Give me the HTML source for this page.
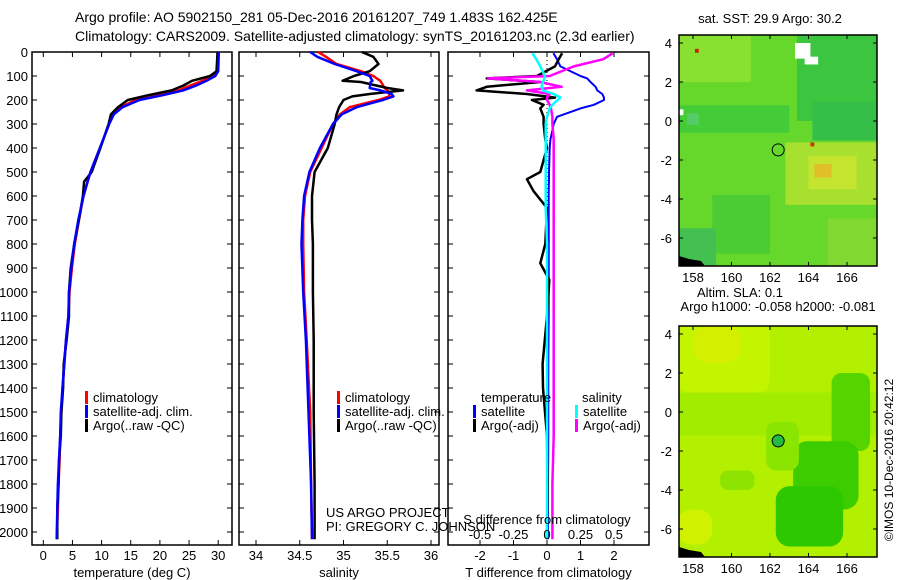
<!DOCTYPE html>
<html><head><meta charset="utf-8">
<style>
html,body{margin:0;padding:0;background:#fff;}
svg{display:block;font-family:"Liberation Sans",sans-serif;}
text{fill:#000;}
</style></head>
<body>
<svg id="fig" width="900" height="580" viewBox="0 0 900 580" xmlns="http://www.w3.org/2000/svg">
<text x="75" y="22" font-size="14">Argo profile: AO 5902150_281 05-Dec-2016 20161207_749 1.483S 162.425E</text>
<text x="75" y="41" font-size="14">Climatology: CARS2009. Satellite-adjusted climatology: synTS_20161203.nc (2.3d earlier)</text>
<g id="p1"></g>
<g id="p2"></g>
<g id="p3"></g>
<g id="m1"></g>
<g id="m2"></g>
<text transform="translate(893,460) rotate(-90)" text-anchor="middle" font-size="12">©IMOS 10-Dec-2016 20:42:12</text>
</svg>
<script>
// ---- data ----
const tempDepth = [0,80,100,120,140,160,180,200,230,260,300,400,500,540,600,700,800,900,1000,1100,1200,1300,1400,1500,1600,1700,1800,1900,2030];
const tempClim  = [29.9,29.8,29.0,27.3,25.2,23.2,19.5,15.8,13.3,12.0,11.3,9.7,8.1,7.6,6.9,6.1,5.4,4.9,4.5,4.3,3.9,3.6,3.3,3.1,2.9,2.8,2.6,2.5,2.3];
const tempSat   = [30.1,30.0,29.5,28.0,26.2,24.0,20.5,16.5,13.6,12.1,11.3,9.7,8.1,7.6,6.9,6.0,5.3,4.8,4.4,4.3,3.9,3.6,3.3,3.0,2.9,2.7,2.5,2.4,2.3];
const tempArgo  = [29.9,29.7,28.6,25.5,24.0,22.0,18.0,14.5,12.8,11.6,11.2,9.8,8.3,7.0,6.8,6.1,5.3,4.7,4.4,4.4,4.0,3.5,3.4,3.1,3.0,2.7,2.6,2.4,2.4];
const salDepth = [0,20,50,80,100,120,125,150,160,175,185,200,230,260,300,400,500,600,700,800,1000,1200,1500,1800,2030];
const salClim  = [34.71,34.80,34.92,35.20,35.34,35.42,35.43,35.47,35.50,35.53,35.52,35.40,35.07,34.96,34.88,34.75,34.62,34.56,34.54,34.54,34.55,34.58,34.62,34.63,34.64];
const salSat   = [34.62,34.70,34.90,35.15,35.30,35.33,35.31,35.30,35.42,35.55,35.57,35.45,35.15,34.98,34.88,34.73,34.61,34.55,34.53,34.52,34.54,34.57,34.60,34.63,34.64];
const salArgo  = [35.21,35.34,35.40,35.30,35.12,34.99,35.20,35.50,35.68,35.30,35.10,35.00,34.95,34.92,34.90,34.82,34.67,34.64,34.64,34.65,34.65,34.66,34.66,34.67,34.67];
const diffDepth = [5,30,60,100,110,125,145,160,175,190,200,220,235,270,300,365,400,500,530,580,650,800,880,950,1100,1300,1400,1600,1800,2030];
const dTsat  = [0.19,0.3,0.4,1.0,1.2,1.3,1.45,1.5,1.65,1.7,1.7,1.4,1.0,0.3,0.2,0.1,0.08,0.06,0.06,0.05,0.05,0.05,0.05,0.05,0.05,0.04,0.04,0.04,0.03,0.03];
const dTargo = [0.45,0.35,0.24,-0.3,-1.8,-0.2,-1.8,-2.1,-0.6,0.24,-0.45,-0.1,-0.2,-0.1,-0.1,-0.05,0.0,-0.2,-0.6,-0.4,0.0,-0.05,-0.2,0.07,0.0,-0.13,-0.12,0.0,0.02,0.0];
const dSsat  = [-0.11,-0.08,-0.05,-0.015,-0.02,-0.03,-0.04,-0.03,0.05,0.1,0.08,0.04,0.02,0.0,-0.01,-0.01,-0.01,-0.01,-0.01,-0.01,-0.01,0.0,0.0,0.0,0.0,0.0,0.0,0.0,0.0,0.0];
const dSargo = [0.49,0.42,0.2,0.02,-0.44,-0.05,0.11,-0.15,0.02,0.0,0.0,0.02,0.03,0.04,0.04,0.05,0.05,0.05,0.05,0.05,0.05,0.05,0.05,0.05,0.05,0.05,0.05,0.05,0.04,0.04];
const depthTicks = [0,100,200,300,400,500,600,700,800,900,1000,1100,1200,1300,1400,1500,1600,1700,1800,1900,2000];
const tempTicks = [0,5,10,15,20,25,30];
const salTicks = [34,34.5,35,35.5,36];
const dTTicks = [-2,-1,0,1,2];
const dSTicks = [-0.5,-0.25,0,0.25,0.5];
const lonTicks = [158,160,162,164,166];
const latTicks = [4,2,0,-2,-4,-6];
const argoLon = [162.425];
const argoLat = [-1.483];

const NS='http://www.w3.org/2000/svg';
function mk(parent,tag,attrs){const e=document.createElementNS(NS,tag);for(const k in attrs)e.setAttribute(k,attrs[k]);parent.appendChild(e);return e;}
const TOP=52,BOT=545;
const yD=d=>TOP+d*0.24;

function panel(g,x0,x1,xs,ticks,fmt,label,showY){
  const r=mk(g,'rect',{x:x0,y:TOP,width:x1-x0,height:BOT-TOP,fill:'none',stroke:'#000','stroke-width':1.5});
  
  
  depthTicks.forEach(d=>{
    mk(g,'line',{x1:x0,x2:x0+5,y1:yD(d),y2:yD(d),stroke:'#000'});
    mk(g,'line',{x1:x1-5,x2:x1,y1:yD(d),y2:yD(d),stroke:'#000'});
    if(showY){const t=mk(g,'text',{x:x0-4,y:yD(d)+5,'text-anchor':'end','font-size':13});t.textContent=d;
      
      }
  });
  ticks.forEach(v=>{
    mk(g,'line',{x1:xs(v),x2:xs(v),y1:BOT,y2:BOT-5,stroke:'#000'});
    mk(g,'line',{x1:xs(v),x2:xs(v),y1:TOP,y2:TOP+5,stroke:'#000'});
    if(fmt){const t=mk(g,'text',{x:xs(v),y:560,'text-anchor':'middle','font-size':13});t.textContent=fmt(v);
      
      }
  });
  const l=mk(g,'text',{x:(x0+x1)/2,y:577,'text-anchor':'middle','font-size':13});l.textContent=label;
  
  
}
function line(g,xs,vals,depths,color,name,w){
  const pts=vals.map((v,i)=>xs(v).toFixed(1)+','+yD(depths[i]).toFixed(1)).join(' ');
  const p=mk(g,'polyline',{points:pts,fill:'none',stroke:color,'stroke-width':w||2.5,'stroke-linejoin':'round'});
  
  
}
function legend(g,x,y,color,txt){
  mk(g,'rect',{x:x,y:y-11,width:3,height:13,fill:color});
  const t=mk(g,'text',{x:x+8,y:y,'font-size':13});t.textContent=txt;
  
  
}
function txt(g,x,y,s,anchor,name){const t=mk(g,'text',{x:x,y:y,'font-size':13,'text-anchor':anchor||'start'});t.textContent=s;
  
  }

// panel 1
const p1=document.getElementById('p1');
const xT=v=>43.3+v*5.83;
panel(p1,32,232,xT,tempTicks,v=>v,'temperature (deg C)',true);
line(p1,xT,tempClim,tempDepth,'#ff0000','temp-climatology-line');
line(p1,xT,tempArgo,tempDepth,'#000','temp-argo-line');
line(p1,xT,tempSat,tempDepth,'#0000ff','temp-satellite-line');
legend(p1,85,402,'#f00','climatology');
legend(p1,85,416,'#00f','satellite-adj. clim.');
legend(p1,85,430,'#000','Argo(..raw -QC)');

// panel 2
const p2=document.getElementById('p2');
const xS=v=>256+(v-34)*87.5;
panel(p2,239,439,xS,salTicks,v=>v,'salinity',false);
line(p2,xS,salClim,salDepth,'#ff0000','sal-climatology-line');
line(p2,xS,salArgo,salDepth,'#000','sal-argo-line');
line(p2,xS,salSat,salDepth,'#0000ff','sal-satellite-line');
legend(p2,337,402,'#f00','climatology');
legend(p2,337,416,'#00f','satellite-adj. clim.');
legend(p2,337,430,'#000','Argo(..raw -QC)');
txt(p2,326,517,'US ARGO PROJECT','start','project-credit');
txt(p2,326,531,'PI: GREGORY C. JOHNSON','start','pi-credit');

// panel 3
const p3=document.getElementById('p3');
const xdT=v=>547+v*33.5;
const xdS=v=>547+v*134;
panel(p3,448,649,xdT,dTTicks,v=>v,'T difference from climatology',false);
mk(p3,'line',{x1:547,x2:547,y1:TOP,y2:BOT,stroke:'#000','stroke-dasharray':'1,3'});
line(p3,xdT,dTsat,diffDepth,'#0000ff','dT-satellite-line',2);
line(p3,xdT,dTargo,diffDepth,'#000','dT-argo-line',2.5);
line(p3,xdS,dSargo,diffDepth,'#ff00ff','dS-argo-line',2.5);
line(p3,xdS,dSsat,diffDepth,'#00ffff','dS-satellite-line',2.5);
txt(p3,481,402,'temperature','start','legend-heading-temperature');
txt(p3,582,402,'salinity','start','legend-heading-salinity');
legend(p3,473,416,'#00f','satellite');
legend(p3,473,430,'#000','Argo(-adj)');
legend(p3,575,416,'#0ff','satellite');
legend(p3,575,430,'#f0f','Argo(-adj)');
txt(p3,547,524,'S difference from climatology','middle','s-axis-title');
dSTicks.forEach(v=>txt(p3,xdS(v),539,String(v),'middle','s-tick-label'));

// maps
const ML=679,MR=877,LON0=157.27,LAT4OFF=8;
const xLon=v=>693+(v-158)*19.25;
function map(g,top,bg,blobs,title1,title2){
  const bot=top+231;
  const yLat=v=>top+LAT4OFF+(4-v)*19.5;
  const cp='clip'+top;
  const defs=mk(g,'defs',{});const c=mk(defs,'clipPath',{id:cp});mk(c,'rect',{x:ML,y:top,width:MR-ML,height:bot-top});
  const inner=mk(g,'g',{'clip-path':'url(#'+cp+')'});
  mk(inner,'rect',{x:ML,y:top,width:MR-ML,height:bot-top,fill:bg});
  blobs.forEach(b=>{
    const x=xLon(b[0]),y=yLat(b[3]),w=xLon(b[1])-x,h=yLat(b[2])-y;
    const r=mk(inner,'rect',{x:x,y:y,width:w,height:h,fill:b[4],rx:b[5]||0});
    
    
  });
  mk(inner,'path',{d:'M'+ML+','+(bot-10)+' l10,3 l12,2 l4,5 l-26,0 z',fill:'#000'});
  const fr=mk(g,'rect',{x:ML,y:top,width:MR-ML,height:bot-top,fill:'none',stroke:'#000','stroke-width':1.5});
  
  
  latTicks.forEach(v=>{mk(g,'line',{x1:ML,x2:ML+4,y1:yLat(v),y2:yLat(v),stroke:'#000'});
    mk(g,'line',{x1:MR-4,x2:MR,y1:yLat(v),y2:yLat(v),stroke:'#000'});
    txt(g,ML-7,yLat(v)+5,String(v),'end','lat-tick-label');});
  lonTicks.forEach(v=>{mk(g,'line',{x1:xLon(v),x2:xLon(v),y1:bot,y2:bot-4,stroke:'#000'});
    mk(g,'line',{x1:xLon(v),x2:xLon(v),y1:top,y2:top+4,stroke:'#000'});
    txt(g,xLon(v),bot+16,String(v),'middle','lon-tick-label');});
  const ci=mk(g,'circle',{cx:xLon(argoLon[0]),cy:yLat(argoLat[0]),r:6,fill:title2?'#22bb44':'none',stroke:'#000','stroke-width':1});
  
  
  if(title2){txt(g,740,top-29,title1,'middle','map-title');txt(g,778,top-15,title2,'middle','map-subtitle');}
  else txt(g,770,top-12,title1,'middle','map-title');
}
const m1=document.getElementById('m1');
map(m1,35,'#66d82c',[
  [163.4,167.6,0,4.6,'#3cc640'],[157.2,163,-0.6,0.8,'#44cc38'],[164.2,167.6,-1,1,'#34c048'],
  [162.8,167.6,-4.3,-1.1,'#a8e030'],[164,166.5,-3.5,-1.8,'#c4e430'],[164.3,165.2,-2.9,-2.2,'#e0c028'],
  [157.2,161,2,4.6,'#88e030'],[159,162,-6.8,-3.8,'#4ccc34'],[157.2,159.2,-7.5,-5.5,'#44c050'],
  [163.3,164.1,3.2,4.0,'#ffffff'],[163.8,164.5,2.9,3.3,'#ffffff'],[157.7,158.3,-0.2,0.4,'#55cc66'],
  [158.1,158.3,3.5,3.7,'#cc2200'],[164.1,164.3,-1.3,-1.1,'#cc3300'],[157.3,157.5,0.3,0.6,'#ffffff'],
  [165,167.6,-7.5,-5,'#80d830']
],'sat. SST: 29.9 Argo: 30.2',null);
const m2=document.getElementById('m2');
map(m2,326,'#b2f000',[
  [157.2,162,1,4.6,'#c4f500',12],[158,160.5,2.5,4.4,'#d4f000',16],[157.2,167.6,-1.2,1,'#a2ec00'],
  [165.2,167.2,-2,2,'#55d400',10],[163.2,166.6,-5,-1.5,'#3ccc00',14],[162.3,165.8,-6.9,-3.8,'#2ec800',14],
  [161.8,163.5,-3,-0.5,'#8ae600',10],[159.4,161.2,-4,-3,'#8ee400',8],[157.2,159,-6.8,-5,'#d0f200',14]
],'Altim. SLA: 0.1','Argo h1000: -0.058 h2000: -0.081');
</script>
</body></html>
